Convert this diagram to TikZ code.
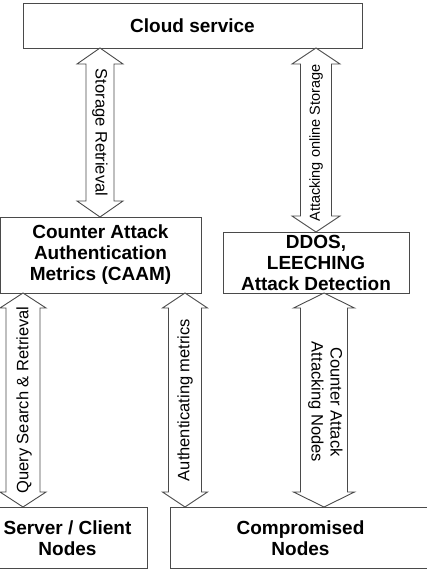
\documentclass[tikz,border=0pt]{standalone}
\usepackage{fontspec}
\setmainfont{Liberation Sans}
\usetikzlibrary{calc}
\definecolor{edge}{HTML}{4A4A4A}
\tikzset{
  box/.style={draw=edge, line width=0.9pt, fill=white},
  boxtext/.style={font=\bfseries\fontsize{19}{21}\selectfont, align=center, inner sep=0pt},
  arrowline/.style={draw=edge, line width=0.9pt, fill=white, line join=miter},
  arrowtext/.style={font=\fontsize{16.5}{19}\selectfont, align=center, inner sep=0pt}
}
% #1 top tip, #2 bottom tip, #3 shaft half width, #4 head half width, #5 head length
\newcommand\dbarrow[5]{%
  \draw[arrowline] (#1) -- ++(#4,#5) -- ++(#3-#4,0) -- ($(#2)+(#3,-#5)$) -- ++(#4-#3,0)
    -- (#2) -- ++(-#4,-#5) -- ++(#4-#3,0) -- ($(#1)+(-#3,#5)$) -- ++(#3-#4,0) -- cycle;}
\begin{document}
\begin{tikzpicture}[x=1pt,y=-1pt]
\clip (0,0) rectangle (427,573);
\fill[white] (0,0) rectangle (427,573);

% boxes
\draw[box] (23,3) rectangle (362,48);
\node[boxtext] (cloud) at (192.5,25.5) {Cloud service};
\coordinate (cloudS) at (192.5,48);

\draw[box] (0.5,217) rectangle (201,293);
\node[boxtext] (caam) at (100.5,255) {Counter Attack\\Authentication\\Metrics (CAAM)};
\coordinate (caamN) at (100,217);
\coordinate (caamS) at (100,293);

\draw[box] (223,232) rectangle (409,293);
\node[boxtext] (ddos) at (316,263) {DDOS,\\LEECHING\\Attack Detection};
\coordinate (ddosN) at (316,232);
\coordinate (ddosS) at (316,293);

\draw[box] (-12,507) rectangle (147,568);
\node[boxtext] (server) at (67.5,538) {Server / Client\\Nodes};

\draw[box] (170,507) rectangle (431,568);
\node[boxtext] (comp) at (300.5,538) {Compromised\\Nodes};

% arrow end points on box edges
\coordinate (a1t) at (cloudS -| caamN);
\coordinate (a1b) at (caamN);
\coordinate (a2t) at (cloudS -| ddosN);
\coordinate (a2b) at (ddosN);
\coordinate (a3t) at (caamS -| 23,0);
\coordinate (a3b) at (23,507);
\coordinate (a4t) at (caamS -| 185,0);
\coordinate (a4b) at (185,507);
\coordinate (a5t) at (324,293);
\coordinate (a5b) at (324,507);

\dbarrow{a1t}{a1b}{14}{23}{16}
\dbarrow{a2t}{a2b}{15.5}{24}{16}
\dbarrow{a3t}{a3b}{17}{23}{15}
\dbarrow{a4t}{a4b}{16.5}{22.5}{15}
\dbarrow{a5t}{a5b}{23.5}{30.5}{15}

\path (a1t) -- (a1b) node[midway, rotate=-90, arrowtext] (l1) {Storage Retrieval};
\path (a2t) -- (a2b) node[midway, rotate=90, arrowtext, font=\fontsize{14.5}{17}\selectfont, xshift=-3pt] (l2) {Attacking online Storage};
\path (a3t) -- (a3b) node[midway, rotate=90, arrowtext, yshift=-1pt] (l3) {Query Search \& Retrieval};
\path (a4t) -- (a4b) node[midway, rotate=90, arrowtext] (l4) {Authenticating metrics};
\path (a5t) -- (a5b) node[midway, rotate=-90, arrowtext, xshift=2pt, yshift=1.5pt] (l5) {Counter Attack\\Attacking Nodes};
\end{tikzpicture}
\end{document}
